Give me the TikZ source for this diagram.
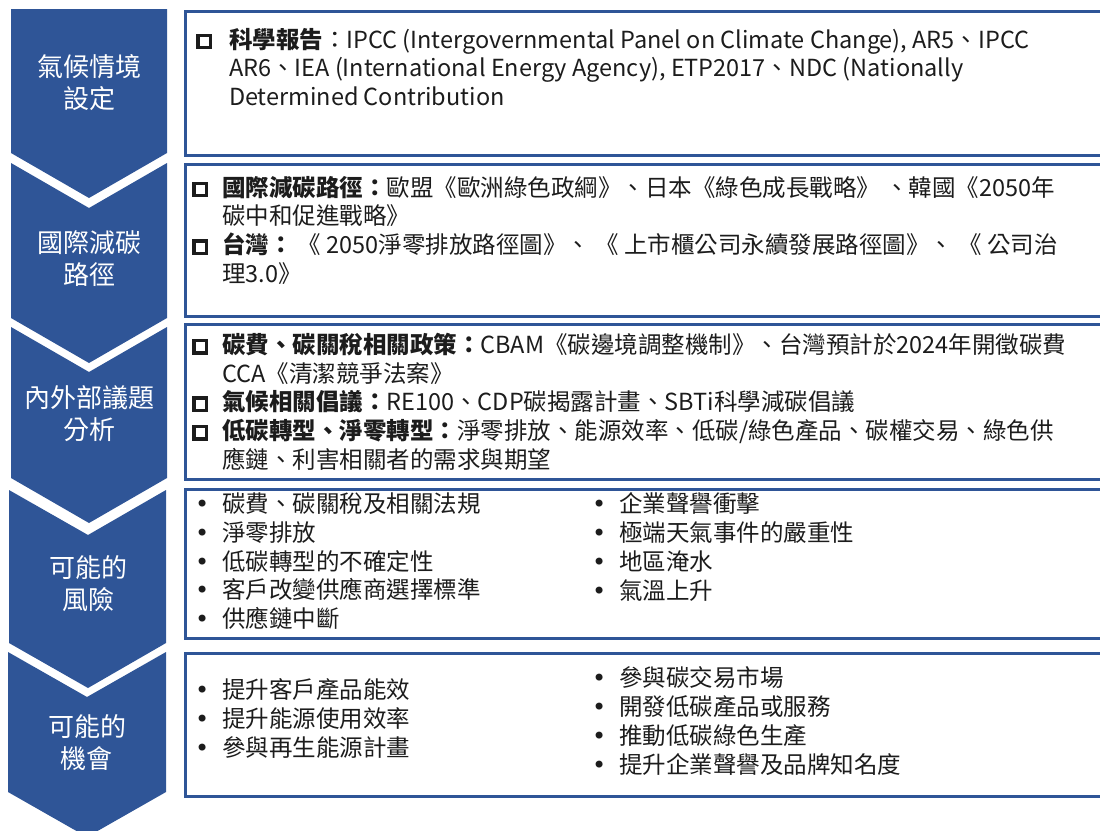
\documentclass[tikz,border=0pt]{standalone}
\usepackage{fontspec}
\setmainfont{Noto Sans CJK TC}
\newfontfamily\dotfont{DejaVu Sans}
\definecolor{stageblue}{RGB}{47,85,151}
\definecolor{inkgray}{RGB}{28,28,28}
\newcommand{\chkbox}[1][14pt]{\llap{\raisebox{2pt}{\setlength{\fboxrule}{3.3pt}\setlength{\fboxsep}{0pt}\fbox{\rule{0pt}{9pt}\rule{9pt}{0pt}}}\hspace{#1}}}
\newcommand{\bul}{\makebox[27pt][l]{{\dotfont\fontsize{24}{24}\selectfont •}}}

\begin{document}
\begin{tikzpicture}[x=1pt,y=-1pt,
stage/.style={fill=stageblue},
stagetext/.style={text=white, align=center,
font=\fontsize{26}{32}\selectfont},
panel/.style={rectangle, draw=stageblue, line width=3pt,
anchor=north west, inner sep=0pt},
itemtext/.style={text=inkgray, align=left, anchor=north west,
inner sep=0pt, outer sep=0pt,
font=\fontsize{23.5}{28.7}\selectfont}]
\useasboundingbox (0,0) rectangle (1100,830);

% left column
\fill[stage] (11,9) -- (167,9) -- (167,153) -- (89,198) -- (11,153) -- cycle;
\fill[stage] (11,163) -- (89,208) -- (167,163) -- (167,318) -- (89,363) -- (11,318) -- cycle;
\fill[stage] (11,327) -- (89,372) -- (167,327) -- (167,478) -- (89,523) -- (11,478) -- cycle;
\fill[stage] (9,490) -- (88,535) -- (166,490) -- (166,643) -- (88,688) -- (9,643) -- cycle;
\fill[stage] (8,652) -- (87,697) -- (166,652) -- (166,792) -- (87,837) -- (8,792) -- cycle;

\node[stagetext] (climate) at (89,83) {氣候情境\\設定};
\node[stagetext] (pathway) at (89,259) {國際減碳\\路徑};
\node[stagetext] (issues) at (89,414) {內外部議題\\分析};
\node[stagetext] (risks) at (88,584) {可能的\\風險};
\node[stagetext] (chances) at (87,743) {可能的\\機會};

% right column
\node[panel, minimum width=926pt, minimum height=144pt] (climatebox) at (184,10) {};
\node[panel, minimum width=926pt, minimum height=152pt] (pathwaybox) at (184,163) {};
\node[panel, minimum width=926pt, minimum height=155pt] (issuesbox) at (184,323) {};
\node[panel, minimum width=926pt, minimum height=149pt] (risksbox) at (184,488) {};
\node[panel, minimum width=926pt, minimum height=143pt] (chancesbox) at (184,652) {};

\node[itemtext] (climatetext) at (229,28)
{\chkbox[17pt]\textbf{科學報告}：IPCC (Intergovernmental Panel on Climate Change), AR5、IPCC\\
AR6、IEA (International Energy Agency), ETP2017、NDC (Nationally\\
Determined Contribution};
\node[itemtext] (pathwaytext) at (222,176)
{\chkbox\textbf{國際減碳路徑：}歐盟《歐洲綠色政綱》、日本《綠色成長戰略》 、韓國《2050年\\
碳中和促進戰略》\\
\chkbox\textbf{台灣：} 《 2050淨零排放路徑圖》、 《 上市櫃公司永續發展路徑圖》、 《 公司治\\
理3.0》};
\node[itemtext] (issuestext) at (222,333)
{\chkbox\textbf{碳費、碳關稅相關政策：}CBAM《碳邊境調整機制》、台灣預計於2024年開徵碳費\\
CCA《清潔競爭法案》\\
\chkbox\textbf{氣候相關倡議：}RE100、CDP碳揭露計畫、SBTi科學減碳倡議\\
\chkbox\textbf{低碳轉型、淨零轉型：}淨零排放、能源效率、低碳/綠色產品、碳權交易、綠色供\\
應鏈、利害相關者的需求與期望};

\node[itemtext] (riskslist) at (195,493)
{\bul 碳費、碳關稅及相關法規\\ \bul 淨零排放\\ \bul 低碳轉型的不確定性\\
\bul 客戶改變供應商選擇標準\\ \bul 供應鏈中斷};
\node[itemtext] (riskslist2) at (592,493)
{\bul 企業聲譽衝擊\\ \bul 極端天氣事件的嚴重性\\ \bul 地區淹水\\ \bul 氣溫上升};

\node[itemtext] (chanceslist) at (195,679)
{\bul 提升客戶產品能效\\ \bul 提升能源使用效率\\ \bul 參與再生能源計畫};
\node[itemtext] (chanceslist2) at (592,667)
{\bul 參與碳交易市場\\ \bul 開發低碳產品或服務\\ \bul 推動低碳綠色生產\\
\bul 提升企業聲譽及品牌知名度};
\end{tikzpicture}
\end{document}
